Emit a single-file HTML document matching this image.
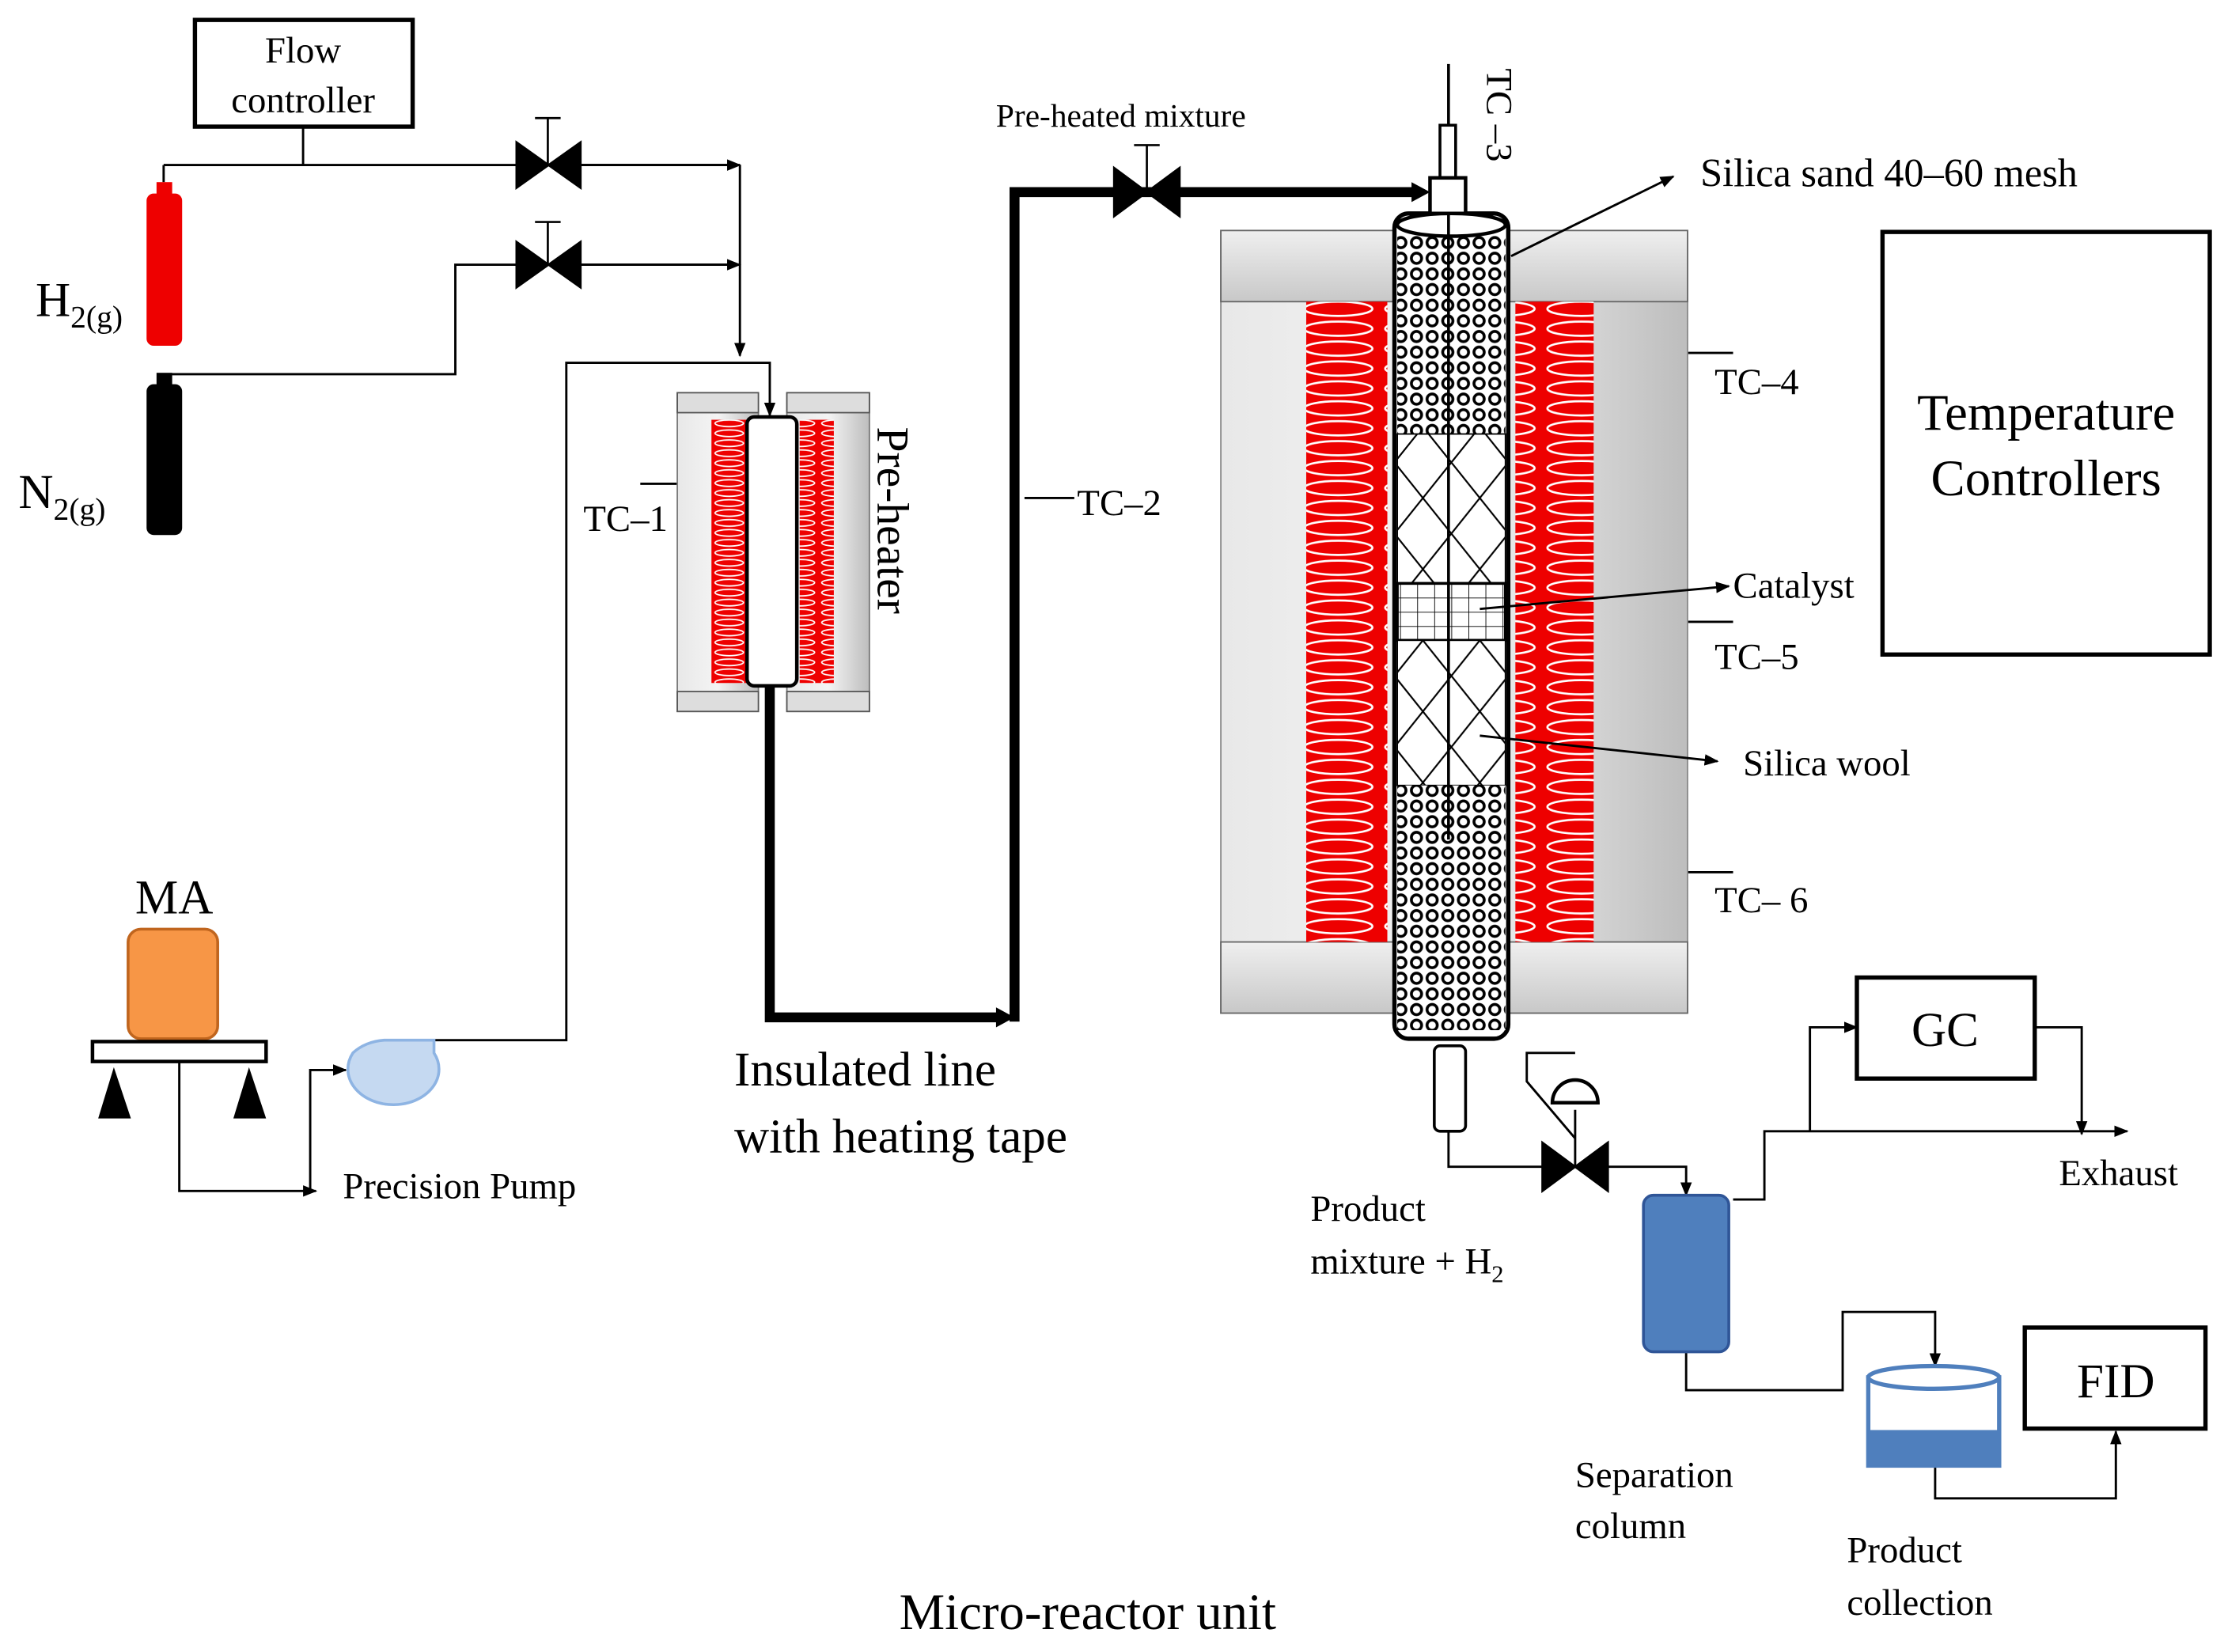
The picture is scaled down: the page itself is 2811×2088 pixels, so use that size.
<!DOCTYPE html>
<html><head><meta charset="utf-8"><style>html,body{margin:0;padding:0;background:#fff}svg{display:block}text{font-family:"Liberation Serif",serif;fill:#000}</style></head>
<body>
<svg width="2811" height="2088" viewBox="0 0 1563 1161" xmlns="http://www.w3.org/2000/svg">
<defs>
<marker id="a" markerWidth="10" markerHeight="10" refX="9" refY="5" orient="auto" markerUnits="userSpaceOnUse"><path d="M0,1 L10,5 L0,9z" fill="#000"/></marker>
<linearGradient id="g" x1="0" x2="1"><stop offset="0" stop-color="#e8e8e8"/><stop offset="0.5" stop-color="#f4f4f4"/><stop offset="1" stop-color="#bdbdbd"/></linearGradient>
<linearGradient id="gv" x1="0" y1="0" x2="0" y2="1"><stop offset="0" stop-color="#efefef"/><stop offset="1" stop-color="#c8c8c8"/></linearGradient>
<pattern id="coil" width="57" height="14" patternUnits="userSpaceOnUse"><rect width="57" height="14" fill="#e00"/><ellipse cx="28.5" cy="7" rx="24" ry="5" fill="none" stroke="#fff" stroke-width="1.5"/></pattern>
<pattern id="coil2" width="25" height="7" patternUnits="userSpaceOnUse"><rect width="25" height="7" fill="#e00"/><ellipse cx="12.5" cy="3.5" rx="10" ry="2.3" fill="none" stroke="#fff" stroke-width="1"/></pattern>
<pattern id="bead" width="11" height="11" patternUnits="userSpaceOnUse"><rect width="11" height="11" fill="#fff"/><circle cx="5.5" cy="5.5" r="3.6" fill="none" stroke="#000" stroke-width="2"/></pattern>
<pattern id="hatch" width="40" height="50" patternUnits="userSpaceOnUse"><rect width="40" height="50" fill="#fff"/><path d="M0,0L40,50M40,0L0,50" stroke="#000" stroke-width="1.2"/></pattern>
<pattern id="cat" width="12" height="10" patternUnits="userSpaceOnUse"><rect width="12" height="10" fill="#fff"/><path d="M0,0H12M0,0V10" stroke="#000" stroke-width="1"/></pattern>
</defs>
<g fill="none" stroke="#000" stroke-width="1.6">
<rect x="137" y="14" width="153" height="75" stroke-width="3"/>
<path d="M213,89V116M115,116H520" />
<path d="M115,128V116"/>
<path d="M115,263H320V186H520"/>
<path d="M408,116H520" marker-end="url(#a)"/>
<path d="M408,186H520" marker-end="url(#a)"/>
<path d="M520,116V250" marker-end="url(#a)"/>
<path d="M305,731H398V255H541V292" marker-end="url(#a)"/>
<path d="M126,746V837H222" marker-end="url(#a)"/>
<path d="M218,837V752H243" marker-end="url(#a)"/>
<path d="M450,340H476M720,350H755"/>
<path d="M1186,248H1218M1186,437H1218M1186,613H1218"/>
<path d="M1018,795V820H1185V840" marker-end="url(#a)"/>
<path d="M1218,843H1240V795H1495" marker-end="url(#a)"/>
<path d="M1272,795V722H1305" marker-end="url(#a)"/>
<path d="M1430,722H1463V797" marker-end="url(#a)"/>
<path d="M1185,950V977H1295V922H1360V960" marker-end="url(#a)"/>
<path d="M1360,1030V1053H1487V1006" marker-end="url(#a)"/>
<rect x="1305" y="687" width="125" height="71" stroke-width="3"/>
<rect x="1423" y="933" width="127" height="71" stroke-width="3"/>
<rect x="1323" y="163" width="230" height="297" stroke-width="3"/>
<path d="M1107,820V780M1107,800L1073,760V740H1107"/>
</g>
<rect x="103" y="136" width="25" height="107" rx="5" fill="#e00"/><rect x="110" y="128" width="11" height="10" fill="#e00"/>
<rect x="103" y="270" width="25" height="106" rx="5" fill="#000"/><rect x="110" y="262" width="11" height="10" fill="#000"/>
<g fill="#000" stroke="#000" stroke-width="1.5">
<path d="M363,100L408,132V100L363,132z"/><path d="M385,116V83M376,83H394" fill="none"/>
<path d="M363,170L408,202V170L363,202z"/><path d="M385,186V156M376,156H394" fill="none"/>
<path d="M783,118L829,152V118L783,152z"/><path d="M806,135V102M797,102H815" fill="none"/>
<path d="M1084,803L1130,837V803L1084,837z"/>
<path d="M1091,775A16,16 0 0 1 1123,775Z" fill="#fff" stroke-width="2.5"/>
</g>
<g fill="none" stroke="#000" stroke-width="7">
<path d="M541,482V715H706"/><path d="M713,718V135H996"/>
</g>
<path d="M700,708L713,715L700,722z M992,128L1005,135L992,142z"/>
<rect x="476" y="276" width="57" height="224" fill="url(#g)" stroke="#777"/>
<rect x="553" y="276" width="58" height="224" fill="url(#g)" stroke="#777"/>
<rect x="476" y="276" width="57" height="14" fill="#ddd" stroke="#555"/><rect x="553" y="276" width="58" height="14" fill="#ddd" stroke="#555"/>
<rect x="476" y="486" width="57" height="14" fill="#ddd" stroke="#555"/><rect x="553" y="486" width="58" height="14" fill="#ddd" stroke="#555"/>
<rect x="500" y="295" width="25" height="185" fill="url(#coil2)"/>
<rect x="562" y="295" width="24" height="185" fill="url(#coil2)"/>
<rect x="525" y="293" width="35" height="189" rx="5" fill="#fff" stroke="#000" stroke-width="2.5"/>
<rect x="858" y="162" width="328" height="550" fill="url(#g)" stroke="#888"/>
<rect x="858" y="162" width="328" height="50" fill="url(#gv)" stroke="#666"/>
<rect x="858" y="662" width="328" height="50" fill="url(#gv)" stroke="#666"/>
<rect x="918" y="212" width="57" height="450" fill="url(#coil)"/>
<rect x="1065" y="212" width="55" height="450" fill="url(#coil)"/>
<rect x="980" y="150" width="80" height="580" rx="10" fill="#fff" stroke="#000" stroke-width="3"/>
<rect x="982" y="165" width="76" height="140" fill="url(#bead)"/>
<rect x="982" y="305" width="76" height="105" fill="url(#hatch)" stroke="#000"/>
<rect x="982" y="410" width="76" height="40" fill="url(#cat)" stroke="#000" stroke-width="2"/>
<rect x="982" y="450" width="76" height="102" fill="url(#hatch)" stroke="#000"/>
<rect x="982" y="552" width="76" height="172" fill="url(#bead)"/>
<ellipse cx="1020" cy="158" rx="38" ry="8" fill="#fff" stroke="#000" stroke-width="2.5"/>
<path d="M1018,45V130" stroke="#000" stroke-width="2"/>
<rect x="1012" y="88" width="11" height="40" fill="#fff" stroke="#000" stroke-width="2"/>
<rect x="1005" y="125" width="25" height="25" fill="#fff" stroke="#000" stroke-width="2.5"/>
<path d="M1018,150V590" stroke="#000" stroke-width="2"/>
<rect x="1008" y="735" width="22" height="60" rx="4" fill="#fff" stroke="#000" stroke-width="2"/>
<g fill="none" stroke="#000" stroke-width="1.6">
<path d="M1062,180L1176,124" marker-end="url(#a)"/>
<path d="M1040,428L1215,412" marker-end="url(#a)"/>
<path d="M1040,517L1207,535" marker-end="url(#a)"/>
</g>
<rect x="1155" y="840" width="60" height="110" rx="7" fill="#4f7fbd" stroke="#2f5597" stroke-width="2"/>
<rect x="1313" y="968" width="92" height="62" fill="#fff" stroke="#4f7fbd" stroke-width="3"/>
<rect x="1313" y="1005" width="92" height="25" fill="#4f7fbd"/>
<ellipse cx="1359" cy="968" rx="46" ry="8" fill="#fff" stroke="#4f7fbd" stroke-width="3"/>
<rect x="90" y="653" width="63" height="77" rx="9" fill="#f79646" stroke="#c0651e" stroke-width="2"/>
<rect x="65" y="732" width="122" height="14" fill="#fff" stroke="#000" stroke-width="2.5"/>
<path d="M80,750L69,786H92z M175,750L164,786H187z"/>
<path d="M248,740 A32,25 0 1 0 305,740 L305,731 L270,731 A32,25 0 0 0 248,740z" fill="#c5d9f1" stroke="#8eb4e3" stroke-width="2"/>
<text x="213" y="44" font-size="26" text-anchor="middle">Flow</text>
<text x="213" y="79" font-size="26" text-anchor="middle">controller</text>
<text x="25" y="222" font-size="34">H<tspan font-size="22" dy="8">2(g)</tspan></text>
<text x="13" y="357" font-size="34">N<tspan font-size="22" dy="8">2(g)</tspan></text>
<text x="410" y="373" font-size="26">TC–1</text>
<text transform="translate(617,300) rotate(90)" font-size="32">Pre-heater</text>
<text x="700" y="89" font-size="23">Pre-heated mixture</text>
<text x="757" y="362" font-size="26">TC–2</text>
<text transform="translate(1045,48) rotate(90)" font-size="26">TC –3</text>
<text x="1195" y="131" font-size="28">Silica sand 40–60 mesh</text>
<text x="1205" y="277" font-size="26">TC–4</text>
<text x="1218" y="420" font-size="26">Catalyst</text>
<text x="1205" y="470" font-size="26">TC–5</text>
<text x="1225" y="545" font-size="26">Silica wool</text>
<text x="1205" y="641" font-size="26">TC– 6</text>
<text x="1438" y="302" font-size="36" font-family="Liberation Sans, sans-serif" text-anchor="middle">Temperature</text>
<text x="1438" y="348" font-size="36" font-family="Liberation Sans, sans-serif" text-anchor="middle">Controllers</text>
<text x="95" y="642" font-size="34">MA</text>
<text x="241" y="842" font-size="26">Precision Pump</text>
<text x="516" y="763" font-size="34">Insulated line</text>
<text x="516" y="810" font-size="34">with heating tape</text>
<text x="921" y="858" font-size="26">Product</text>
<text x="921" y="895" font-size="26">mixture + H<tspan font-size="17" dy="6">2</tspan></text>
<text x="1367" y="735" font-size="34" text-anchor="middle">GC</text>
<text x="1447" y="833" font-size="26">Exhaust</text>
<text x="1487" y="982" font-size="34" text-anchor="middle">FID</text>
<text x="1107" y="1045" font-size="26">Separation</text>
<text x="1107" y="1081" font-size="26">column</text>
<text x="1298" y="1098" font-size="26">Product</text>
<text x="1298" y="1135" font-size="26">collection</text>
<text x="632" y="1145" font-size="36">Micro-reactor unit</text>
</svg>
</body></html>
